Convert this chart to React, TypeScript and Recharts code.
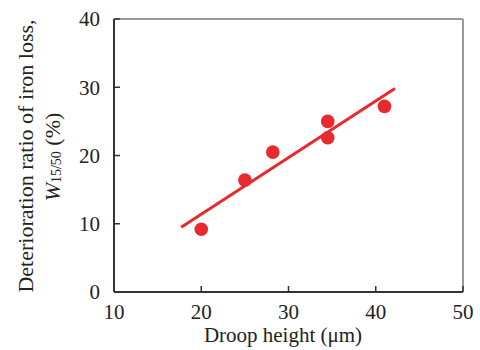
import { ReferenceLine, Scatter, ScatterChart, XAxis, YAxis } from "recharts";

const droop = [20, 25, 28.2, 34.5, 34.5, 41];
const deterioration = [9.2, 16.4, 20.5, 25.0, 22.6, 27.2];
const fitX = [17.7, 42.2];
const fitY = [9.5, 29.8];
const xTicks = [10, 20, 30, 40, 50];
const yTicks = [0, 10, 20, 30, 40];

const points = droop.map((x, i) => ({ x, y: deterioration[i] }));

const RED = "#e8292d";
const INK = "#222";
const font = "Liberation Serif, serif";
const tickStyle = { fill: INK, fontSize: 21, fontFamily: font };
const yTitleStyle = { fontFamily: font, fontSize: 22 };

const Dot = (props: any) => <circle cx={props.cx} cy={props.cy} r={6.8} fill={RED} />;

export default function App() {
  return (
    <div style={{ position: "absolute", left: 0, top: 0, background: "#fff", fontFamily: font }}>
      <ScatterChart width={480} height={350} margin={{ top: 19, right: 17, bottom: 0, left: 0 }}>
        <XAxis
          type="number"
          dataKey="x"
          domain={[10, 50]}
          ticks={xTicks}
          tick={tickStyle}
          tickSize={-6}
          tickMargin={18}
          height={58}
          axisLine={{ stroke: "#333", strokeWidth: 2 }}
          tickLine={{ stroke: "#333", strokeWidth: 1.5 }}
        />
        <YAxis
          type="number"
          dataKey="y"
          domain={[0, 40]}
          ticks={yTicks}
          tick={tickStyle}
          tickSize={-6}
          tickMargin={20}
          width={114}
          axisLine={{ stroke: "#333", strokeWidth: 2 }}
          tickLine={{ stroke: "#333", strokeWidth: 1.5 }}
        />
        <ReferenceLine y={40} stroke="#999" strokeWidth={2} />
        <ReferenceLine x={50} stroke="#999" strokeWidth={2} />
        <ReferenceLine
          segment={[
            { x: fitX[0], y: fitY[0] },
            { x: fitX[1], y: fitY[1] },
          ]}
          stroke={RED}
          strokeWidth={3}
        />
        <Scatter data={points} fill={RED} shape={Dot} isAnimationActive={false} />
        <text x={283} y={342} textAnchor="middle" fill={INK} style={{ fontFamily: font, fontSize: 21 }}>
          Droop height (μm)
        </text>
        <text
          x={25}
          y={156}
          transform="rotate(-90 25 156)"
          textAnchor="middle"
          dominantBaseline="central"
          fill={INK}
          style={yTitleStyle}
        >
          Deterioration ratio of iron loss,
        </text>
        <text
          x={52}
          y={157}
          transform="rotate(-90 52 157)"
          textAnchor="middle"
          dominantBaseline="central"
          fill={INK}
          style={yTitleStyle}
        >
          <tspan fontStyle="italic">W</tspan>
          <tspan style={{ fontSize: 14 }} dy={4}>15/50</tspan>
          <tspan dy={-4}> (%)</tspan>
        </text>
      </ScatterChart>
    </div>
  );
}
